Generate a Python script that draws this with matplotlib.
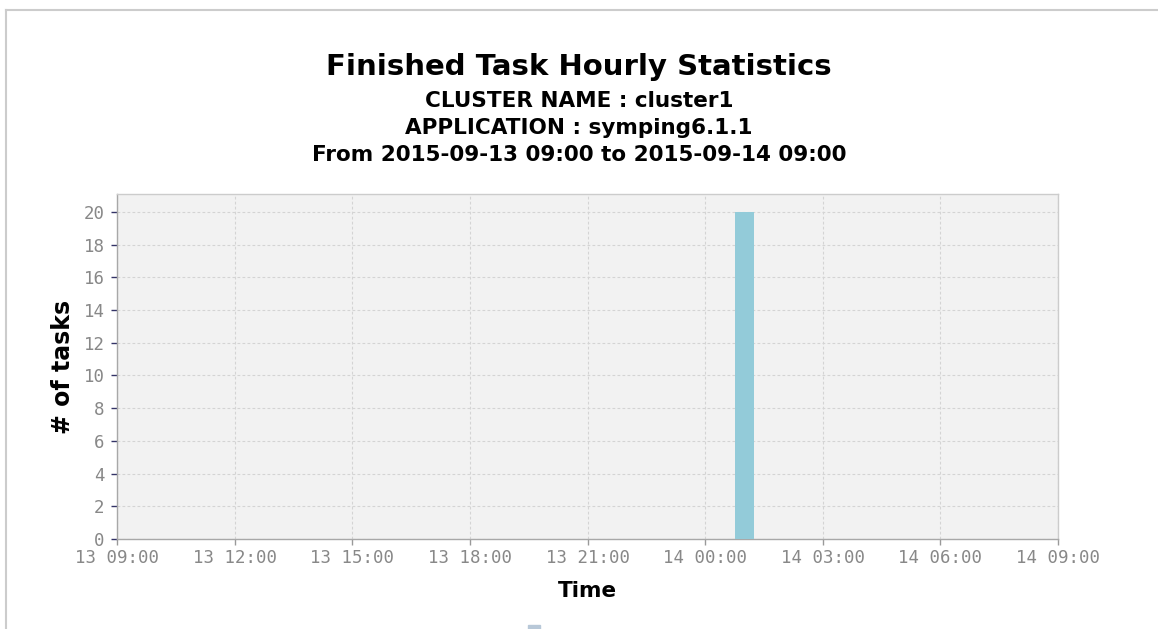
import matplotlib
matplotlib.use("Agg")
import matplotlib.pyplot as plt
import matplotlib.dates as mdates
from matplotlib.lines import Line2D
from matplotlib.patches import Rectangle
import pandas as pd

# data
bar_times = ["2015-09-14 01:00"]
bar_counts = [20]
x_start = "2015-09-13 09:00"
x_end = "2015-09-14 09:00"
y_ticks = [0, 2, 4, 6, 8, 10, 12, 14, 16, 18, 20]

title = "Finished Task Hourly Statistics"
subtitles = ["CLUSTER NAME : cluster1",
             "APPLICATION : symping6.1.1",
             "From 2015-09-13 09:00 to 2015-09-14 09:00"]

fig = plt.figure(figsize=(11.58, 6.29), dpi=100)
fig.patch.set_facecolor("white")

ax = fig.add_axes([117 / 1158, 1 - 539 / 629, (1058 - 117) / 1158, (539 - 194) / 629])
ax.set_facecolor("#f2f2f2")

t = pd.to_datetime(bar_times)
ax.bar(t, bar_counts, width=0.47 / 24, color="#93cbd9", zorder=3)

ax.set_xlim(pd.Timestamp(x_start), pd.Timestamp(x_end))
ax.set_ylim(0, 21.1)
ax.set_yticks(y_ticks)
ax.xaxis.set_major_locator(mdates.HourLocator(byhour=range(0, 24, 3)))
ax.xaxis.set_major_formatter(mdates.DateFormatter("%d %H:%M"))

ax.grid(True, color="#d4d4d4", linestyle=(0, (2.5, 2)), linewidth=0.8, zorder=0)
for s in ax.spines.values():
    s.set_color("#cccccc")
    s.set_linewidth(1.0)
ax.spines["bottom"].set_color("#a8a8a8")
ax.spines["left"].set_color("#a8a8a8")

ax.tick_params(axis="both", labelsize=12.5, labelcolor="#888888", length=4, width=1)
ax.tick_params(axis="y", colors="#333366", labelcolor="#888888", pad=5)
ax.tick_params(axis="x", colors="#999999", labelcolor="#888888", pad=3)
for lab in ax.get_xticklabels() + ax.get_yticklabels():
    lab.set_family("DejaVu Sans Mono")

ax.set_xlabel("Time", fontsize=15.5, fontweight="bold", labelpad=10)
ax.set_ylabel("# of tasks", fontsize=17, fontweight="bold", labelpad=6)

# titles
fig.text(0.5, 1 - 67 / 629, title, ha="center", va="center", fontsize=21, fontweight="bold")
for i, sub in enumerate(subtitles):
    fig.text(0.5, 1 - (101 + i * 27) / 629, sub, ha="center", va="center",
             fontsize=15.5, fontweight="bold")

# outer frame
fig.add_artist(Line2D([6 / 1158, 1], [1 - 10 / 629, 1 - 10 / 629], color="#cccccc", lw=1.5))
fig.add_artist(Line2D([6 / 1158, 6 / 1158], [0, 1 - 10 / 629], color="#cccccc", lw=1.5))

# legend swatch cut off at the bottom
fig.add_artist(Rectangle((528 / 1158, 0), 12 / 1158, 4 / 629, color="#b8c8d8",
                         transform=fig.transFigure))

fig.savefig("out.png", dpi=100)
